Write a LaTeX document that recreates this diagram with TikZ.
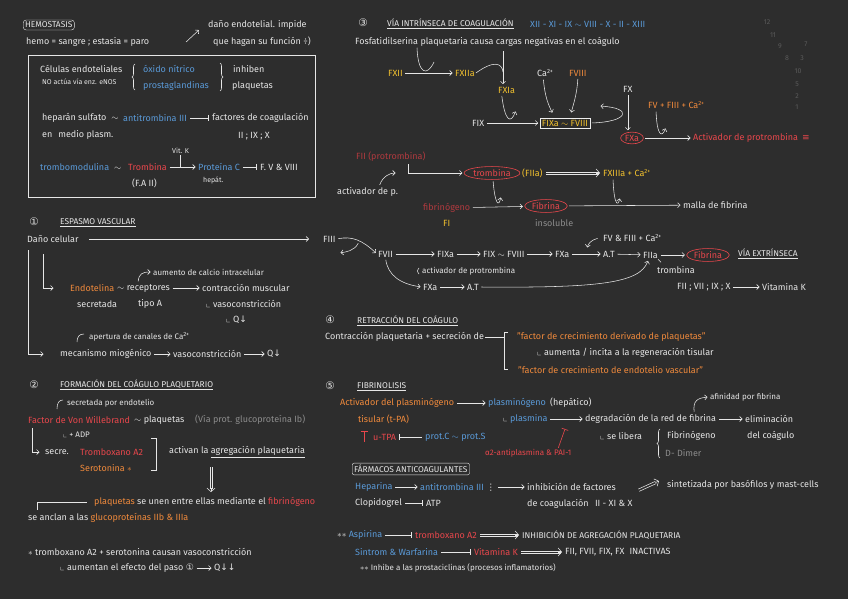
\documentclass[tikz,border=0pt]{standalone}
\usepackage{amssymb}
\usepackage{fontspec}
\setmainfont{Fira Sans}
\newfontfamily\symfont{DejaVu Sans}
\usetikzlibrary{positioning,arrows.meta,shapes.geometric,decorations.pathreplacing}

\definecolor{board}{HTML}{2D2D2D}
\definecolor{chalk}{HTML}{E6E6E6}
\definecolor{chalkblue}{HTML}{5A9AD8}
\definecolor{chalkred}{HTML}{E8474C}
\definecolor{chalkorange}{HTML}{F08A3C}
\definecolor{chalkyellow}{HTML}{F2C12E}
\definecolor{chalkdred}{HTML}{B03A3F}
\definecolor{chalkgrey}{HTML}{8C8C8C}
\definecolor{chalkfaint}{HTML}{5A5A5A}

\newcommand{\caion}{Ca\textsuperscript{2+}}
\newcommand{\lcorner}{$\llcorner$}

\begin{document}
\begin{tikzpicture}[
    x=1pt, y=-1pt,
    note/.style={anchor=west, inner sep=1pt, text=chalk, font=\fontsize{9}{10.5}\selectfont},
    snote/.style={note, font=\fontsize{8}{9.5}\selectfont},
    tnote/.style={note, font=\fontsize{7}{8}\selectfont},
    head/.style={note, font=\fontsize{8.4}{9.5}\selectfont},
    bnote/.style={note, text=chalkblue},
    rnote/.style={note, text=chalkred},
    onote/.style={note, text=chalkorange},
    ynote/.style={note, text=chalkyellow},
    dnote/.style={note, text=chalkdred},
    gnote/.style={note, text=chalkgrey},
    num/.style={anchor=center, inner sep=0pt, text=chalk, font=\symfont\fontsize{10.5}{10.5}\selectfont},
    oval/.style={ellipse, draw=chalkred, line width=0.6pt, inner sep=1pt, anchor=center,
        text=chalkred, font=\fontsize{9}{10.5}\selectfont},
    link/.style={draw=chalk, line width=0.55pt},
    arrow/.style={link, -{Straight Barb[length=2.5pt,width=5pt]}, shorten <=1.5pt, shorten >=1.5pt},
    inhib/.style={link, -{Bar[width=6pt]}, shorten <=2pt, shorten >=2pt},
    redinhib/.style={draw=chalkred, line width=0.6pt, -{Bar[width=7pt]}},
    hollow/.style={link, shorten <=2pt, shorten >=3.5pt},
    hollowtip/.style={link, -{Straight Barb[length=3.5pt,width=8pt]}},
    brace/.style={link, decorate, decoration={brace, amplitude=3pt}}
]
\useasboundingbox (0,0) rectangle (848,599);
\fill[board] (0,0) rectangle (848,599);

% hemostasis
\node[head, draw=chalk, rounded corners=3pt, inner sep=2pt] (hemo) at (23,25) {HEMOSTASIS};
\node[note] (hemodef) at (25,42) {hemo = sangre ; estasia = paro};
\coordinate (upA) at (185,43);
\coordinate (upB) at (200,29);
\draw[arrow] (upA) -- (upB);
\node[note] (dano) at (207,25) {daño endotelial. impide};
\node[note] (danob) at (212,42) {que hagan su función ÷)};

\draw[link] (28,55) rectangle (315,197);
\node[note] (celend) at (39,69) {Células endoteliales};
\node[tnote] (enos) at (41,82) {NO actúa vía enz. eNOS};
\draw[brace] (135,90) -- (135,64);
\node[bnote] (oxido) at (142,69) {óxido nítrico};
\node[bnote] (prosta) at (142,86) {prostaglandinas};
\draw[brace] (220,63) -- (220,91);
\node[note] (inhiben) at (232,69) {inhiben};
\node[note] (plaq) at (231,86) {plaquetas};
\node[note] (hepsul) at (41,118) {heparán sulfato\hspace{5pt}$\sim$};
\node[bnote] (at3) at (122,118) {antitrombina III};
\node[note] (factc) at (211,118) {factores de coagulación};
\node[note] (plasm) at (41,135) {en\hspace{6pt}medio plasm.};
\node[note] (fact2) at (237,136) {II ; IX ; X};
\node[tnote] (vitk) at (171,151) {Vit. K};
\node[bnote] (tmod) at (39,167) {trombomodulina\hspace{5pt}\textcolor{chalk}{$\sim$}};
\node[rnote] (tromb) at (127,167) {Trombina};
\node[note] (fa2) at (131,183) {(F.A II)};
\node[bnote] (protc) at (197,167) {Proteína C};
\node[tnote] (hepat) at (202,180) {hepát.};
\node[note] (fv8) at (259,167) {F. V \& VIII};
\draw[inhib] (at3) -- (factc);
\draw[arrow] (tromb) -- (protc);
\draw[link] (vitk.south) -- (vitk.south |- tromb.center);
\draw[inhib] (protc) -- (fv8);

% 1 espasmo vascular
\node[num] (s1) at (34,222) {①};
\node[head] (t1) at (59,223) {\underline{ESPASMO VASCULAR}};
\node[note] (dcel) at (26,239) {Daño celular};
\node[onote] (endot) at (69,288) {Endotelina};
\node[note] (recep) at (116,288) {$\sim$ receptores};
\node[note] (contr) at (201,288) {contracción muscular};
\node[snote] (calc) at (152,272) {aumento de calcio intracelular};
\node[note] (secr) at (76,304) {secretada};
\node[note] (tipoa) at (137,304) {tipo A};
\node[note] (vaso1) at (205,304) {\lcorner\ vasoconstricción};
\node[note] (q1) at (225,320) {\lcorner\ Q{\symfont ↓}};
\node[snote] (apert) at (88,337) {apertura de canales de \caion};
\node[note] (miog) at (59,354) {mecanismo miogénico};
\node[note] (vaso2) at (172,354) {vasoconstricción};
\node[note] (q2) at (266,354) {Q{\symfont ↓}};
\draw[arrow] (recep) -- (contr);
\draw[arrow] ([xshift=22pt]recep.north west) .. controls (139,274) and (142,272) .. (calc.west);
\coordinate (apA) at (77,342);
\coordinate (apB) at (84,334);
\draw[link] (apA) .. controls (77,337) and (79,334) .. (apB);
\draw[arrow] ([xshift=2pt,yshift=-5pt]dcel.south west) |- ([xshift=-14pt]miog.west);
\draw[arrow] ([xshift=17pt,yshift=-9pt]dcel.south west) |- ([xshift=-14pt]endot.west);
\draw[arrow] (miog) -- (vaso2);
\draw[arrow] (vaso2) -- (q2);

% 2 coagulo plaquetario
\node[num] (s2) at (34,385) {②};
\node[head] (t2) at (59,385) {\underline{FORMACIÓN DEL COÁGULO PLAQUETARIO}};
\node[snote] (secend) at (66,403) {secretada por endotelio};
\coordinate (seA) at (57,409);
\coordinate (seB) at (63,400);
\draw[link] (seA) .. controls (57,403) and (59,400) .. (seB);
\node[rnote] (vwf) at (27,420) {Factor de Von Willebrand};
\node[note] (plaqb) at (133,420) {$\sim$ plaquetas};
\node[gnote] (glyco) at (194,420) {(Vía prot. glucoproteína Ib)};
\node[snote] (adp) at (62,435) {\lcorner\ + ADP};
\node[note] (secre) at (44,452) {secre.};
\node[rnote] (txa) at (79,452) {Tromboxano A2};
\node[onote] (sero) at (79,468) {Serotonina $\ast$};
\draw[link] (151,438) -- (156,438) -- (156,470) -- (151,470);
\node[note] (activ) at (168,452) {activan la \underline{agregación plaquetaria}};
\coordinate (dwA) at (211,465);
\coordinate (dwB) at (211,492);
\draw[hollow] ([xshift=1.2pt]dwA) -- ([xshift=1.2pt]dwB);
\draw[hollow] ([xshift=-1.2pt]dwA) -- ([xshift=-1.2pt]dwB);
\draw[hollowtip] ([yshift=4pt]dwB) -- (dwB);
\node[note] (union) at (93,502) {\textcolor{chalkorange}{plaquetas} se unen entre ellas mediante el \textcolor{chalkred}{fibrinógeno}};
\node[note] (ancla) at (27,518) {se anclan a las \textcolor{chalkorange}{glucoproteínas IIb \& IIIa}};
\draw[link] ([xshift=10pt,yshift=2pt]ancla.north west) |- ([xshift=-6pt]union.west);
\draw[arrow] ([xshift=5pt,yshift=-2pt]vwf.south west) |- ([xshift=-3pt]secre.west);
\node[note] (ast) at (27,552) {$\ast$ tromboxano A2 + serotonina causan vasoconstricción};
\node[note] (aumen) at (59,568) {\lcorner\ aumentan el efecto del paso {\symfont ①}};
\node[note] (qdd) at (213,568) {Q{\symfont ↓↓}};
\draw[arrow] (aumen) -- (qdd);

% 3 via intrinseca
\node[num] (s3) at (363,23) {③};
\node[head] (t3) at (386,24) {\underline{VÍA INTRÍNSECA DE COAGULACIÓN}};
\node[bnote] (seq) at (529,24) {XII - XI - IX $\sim$ VIII - X - II - XIII};
\node[note] (fosf) at (354,42) {Fosfatidilserina plaquetaria causa cargas negativas en el coágulo};
\node[ynote] (fxii) at (387,73) {FXII};
\node[ynote] (fxiia) at (454,73) {FXIIa};
\node[ynote] (fxia) at (497,90) {FXIa};
\node[note] (ca1) at (536,73) {\caion};
\node[onote] (fviii) at (568,73) {FVIII};
\node[note] (fix) at (471,123) {FIX};
\node[ynote, draw=chalk!70, inner sep=2pt, anchor=center] (fixbox) at (565,123) {FIXa $\sim$ FVIII};
\node[note] (fx) at (622,89) {FX};
\node[oval] (fxa) at (632,138) {FXa};
\node[onote] (fvca) at (647,105) {FV + FIII + \caion};
\node[rnote] (actp) at (692,138) {Activador de protrombina\hspace{4pt}{\symfont ≡}};
\draw[arrow] (fxii) -- (fxiia);
\draw[link] ([xshift=63pt]fosf.south west) .. controls (418,74) and (427,77) .. (434,62);
\coordinate (vtop) at (503,50);
\draw[arrow] (vtop) -- (vtop |- fxia.north);
\draw[link] (fxiia.east) .. controls (494,60) and (502,63) .. (503,72);
\draw[arrow] (fix) -- (fixbox);
\draw[arrow] ([xshift=-5pt]fxia.south) .. controls (505,122) and (511,124) .. (516,110);
\draw[arrow] ([xshift=-2pt]ca1.south) .. controls (545,98) and (549,106) .. (553,114);
\draw[arrow] (fviii.south) .. controls (577,95) and (573,105) .. (571,114);
\coordinate (fback) at (599,106);
\draw[arrow] (fixbox.east) .. controls (628,122) and (634,108) .. (fback);
\draw[arrow] (fx.south) -- (fx.south |- fxa.north);
\draw[arrow] (fxa) -- (actp);
\draw[arrow] ([xshift=9pt]fvca.south west) .. controls (657,136) and (662,138) .. (666,127);

\node[dnote] (fii) at (355,157) {FII (protrombina)};
\node[note] (actpp) at (336,192) {activador de p.};
\node[oval] (trmb) at (492,173) {trombina};
\node[ynote] (fiia) at (521,173) {(FIIa)};
\node[ynote] (fxiiia) at (602,173) {FXIIIa + \caion};
\node[dnote] (fibg) at (422,208) {fibrinógeno};
\node[ynote] (fi) at (442,223) {FI};
\node[oval] (fibr) at (546,206) {Fibrina};
\node[gnote] (insol) at (534,223) {insoluble};
\node[note] (malla) at (682,205) {malla de fibrina};
\draw[arrow] ([xshift=-18pt]fii.south east) |- (trmb.west);
\coordinate (actpE) at (397,173);
\draw[arrow] ([xshift=-20pt]actpp.north east) .. controls (383,176) and (390,173) .. (actpE);
\draw[hollow] ([yshift=1.2pt]fiia.east) -- ([yshift=1.2pt]fxiiia.west);
\draw[hollow] ([yshift=-1.2pt]fiia.east) -- ([yshift=-1.2pt]fxiiia.west);
\draw[hollowtip] ([xshift=-6pt]fxiiia.west) -- ([xshift=-2pt]fxiiia.west);
\draw[arrow] (fibg) -- (fibr);
\draw[arrow] ([xshift=1pt]trmb.south) .. controls (495,205) and (499,207) .. (501,196);
\draw[arrow] (fibr) -- (malla);
\draw[arrow] ([xshift=11pt]fxiiia.south west) .. controls (614,205) and (618,207) .. (620,197);

% via extrinseca
\node[note] (fiii) at (322,239) {FIII};
\node[note] (fvii) at (377,254) {FVII};
\node[note] (fixa2) at (436,254) {FIXa};
\node[note] (fix8) at (482,254) {FIX $\sim$ FVIII};
\node[note] (fxa2) at (554,254) {FXa};
\node[note] (at1) at (602,254) {A.T};
\node[note] (fiia2) at (642,255) {FIIa};
\node[oval] (fibr2) at (708,255) {Fibrina};
\node[head] (vext) at (737,254) {\underline{VÍA EXTRÍNSECA}};
\node[note] (fvf3) at (602,238) {FV \& FIII + \caion};
\node[note] (trb3) at (656,270) {trombina};
\node[snote] (actpt) at (421,271) {activador de protrombina};
\node[note] (fxa3) at (422,287) {FXa};
\node[note] (at2) at (466,287) {A.T};
\node[note] (fvit) at (676,287) {FII ; VII ; IX ; X};
\node[note] (vitk2) at (761,287) {Vitamina K};
\draw[arrow, shorten <=9pt, shorten >=13pt] (dcel) -- (fiii);
\coordinate (split) at (359,242);
\coordinate (fiiiback) at (339,253);
\draw[arrow] (fiii.east) .. controls (352,236) and (362,240) .. (fvii.west);
\draw[arrow] (split) .. controls (354,251) and (346,252) .. (fiiiback);
\draw[arrow] (fvii) -- (fixa2);
\draw[arrow] (fixa2) -- (fix8);
\draw[arrow] (fix8) -- (fxa2);
\draw[arrow] (fxa2) -- (at1);
\draw[arrow] (at1) -- (fiia2);
\draw[arrow] (fiia2) -- (fibr2);
\coordinate (fvfE) at (587,249);
\draw[arrow] ([xshift=-3pt]fvf3.west) .. controls (591,240) and (588,244) .. (fvfE);
\draw[link] ([xshift=-1pt]fiia2.south east) -- ([shift={(2pt,-3pt)}]fiia2.south east);
\draw[link] ([shift={(-2pt,3pt)}]actpt.west) .. controls ([shift={(-4pt,0pt)}]actpt.west) .. ([shift={(-2pt,-3pt)}]actpt.west);
\draw[arrow] (fvii.south) .. controls (388,275) and (400,284) .. (fxa3.west);
\draw[arrow] (fxa3) -- (at2);
\draw[arrow] (at2.east) .. controls (600,288) and (640,283) .. ([xshift=-2pt]fiia2.south);
\draw[arrow] (fvit) -- (vitk2);

% 4 retraccion
\node[num] (s4) at (330,320) {④};
\node[head] (t4) at (356,321) {\underline{RETRACCIÓN DEL COÁGULO}};
\node[note] (contrpl) at (324,337) {Contracción plaquetaria + secreción de};
\node[onote] (fcdp) at (516,337) {"factor de crecimiento derivado de plaquetas"};
\node[note] (regen) at (536,353) {\lcorner\ aumenta / incita a la regeneración tisular};
\node[onote] (fcev) at (517,370) {"factor de crecimiento de endotelio vascular"};
\coordinate (brkM) at (504,337);
\coordinate (brkT) at (508,332);
\coordinate (brkB) at (508,369);
\draw[link] (contrpl.east) -- (brkM);
\draw[link] (brkT) -- (504,332) -- (504,369) -- (brkB);

% 5 fibrinolisis
\node[num] (s5) at (330,386) {⑤};
\node[head] (t5) at (356,387) {\underline{FIBRINOLISIS}};
\node[onote] (actpl) at (339,403) {Activador del plasminógeno};
\node[bnote] (plg) at (487,403) {plasminógeno};
\node[note] (hepa) at (549,403) {(hepático)};
\node[onote] (tis) at (357,419) {tisular (t-PA)};
\node[note] (plm) at (502,419) {\lcorner\ \textcolor{chalkblue}{plasmina}};
\node[note] (degr) at (584,419) {degradación de la red de fibrina};
\node[note] (elim) at (744,419) {eliminación};
\node[note] (delc) at (746,436) {del coágulo};
\node[snote] (afin) at (709,397) {afinidad por fibrina};
\node[rnote] (utpa) at (372,437) {u-TPA};
\node[bnote] (pcs) at (424,437) {prot.C $\sim$ prot.S};
\node[rnote, font=\fontsize{8}{9.5}\selectfont] (a2ap) at (484,453) {α2-antiplasmina \& PAI-1};
\node[note] (selib) at (599,436) {\lcorner\ se libera};
\node[note] (fibg2) at (666,436) {Fibrinógeno};
\node[gnote] (ddim) at (664,453) {D- Dimer};
\draw[brace] (660,458) -- (660,429);
\draw[arrow] (actpl) -- (plg);
\draw[arrow] (plm) -- (degr);
\draw[arrow] (degr) -- (elim);
\draw[arrow] ([xshift=-23pt]degr.north east) .. controls (693,401) and (697,398) .. (afin.west);
\coordinate (utA) at (364,442);
\coordinate (utB) at (364,431);
\draw[redinhib] (utA) -- (utB);
\draw[inhib] (pcs) -- (utpa);
\coordinate (a2T) at (565,429);
\draw[redinhib] ([xshift=30pt]a2ap.north) -- (a2T);

% farmacos
\node[head, draw=chalk, rounded corners=2pt, inner sep=2pt] (farm) at (352,469) {FÁRMACOS ANTICOAGULANTES};
\node[bnote] (hepar) at (354,487) {Heparina};
\node[bnote] (at3b) at (419,487) {antitrombina III \textcolor{chalk}{{\symfont ⋮}}};
\node[note] (inhf) at (526,487) {inhibición de factores};
\node[note] (decoag) at (526,504) {de coagulación\hspace{4pt} II - XI \& X};
\node[note] (sintz) at (666,485) {sintetizada por basófilos y mast-cells};
\coordinate (hpA) at (637,491);
\coordinate (hpB) at (659,481);
\draw[hollow] ([shift={(-0.5pt,1.1pt)}]hpA) -- ([shift={(-0.5pt,1.1pt)}]hpB);
\draw[hollow] ([shift={(0.5pt,-1.1pt)}]hpA) -- ([shift={(0.5pt,-1.1pt)}]hpB);
\draw[hollowtip] ([shift={(-3.6pt,-1.6pt)}]hpB) -- (hpB);
\node[note] (clop) at (354,503) {Clopidogrel};
\node[note] (atp) at (425,503) {ATP};
\draw[arrow] (hepar) -- (at3b);
\draw[arrow] (at3b) -- (inhf);
\draw[inhib] (clop) -- (atp);

\node[note] (asp) at (336,535) {$\ast\ast$ \textcolor{chalkblue}{Aspirina}};
\node[rnote] (txb) at (414,535) {tromboxano A2};
\node[head] (inag) at (521,535) {INHIBICIÓN DE AGREGACIÓN PLAQUETARIA};
\node[bnote] (sintr) at (354,552) {Sintrom \& Warfarina};
\node[rnote] (vk) at (473,552) {Vitamina K};
\node[note] (inact) at (564,552) {FII, FVII, FIX, FX\hspace{5pt}INACTIVAS};
\node[snote] (prost) at (359,568) {$\ast\ast$ Inhibe a las prostaciclinas (procesos inflamatorios)};
\draw[inhib] (asp) -- (txb);
\draw[hollow] ([yshift=1.2pt]txb.east) -- ([yshift=1.2pt]inag.west);
\draw[hollow] ([yshift=-1.2pt]txb.east) -- ([yshift=-1.2pt]inag.west);
\draw[hollowtip] ([xshift=-6pt]inag.west) -- ([xshift=-2pt]inag.west);
\draw[inhib] (sintr) -- (vk);
\draw[hollow] ([yshift=1.2pt]vk.east) -- ([yshift=1.2pt]inact.west);
\draw[hollow] ([yshift=-1.2pt]vk.east) -- ([yshift=-1.2pt]inact.west);
\draw[hollowtip] ([xshift=-6pt]inact.west) -- ([xshift=-2pt]inact.west);

% faint numbers
\foreach \n/\x/\y in {12/767/22, 11/773/35, 9/780/46, 7/806/44, 8/787/58, 3/802/58,
    10/798/71, 5/797/84, 2/797/96, 1/797/107}
    \node[tnote, anchor=center, text=chalkfaint] (num\n) at (\x,\y) {\n};
\end{tikzpicture}
\end{document}
